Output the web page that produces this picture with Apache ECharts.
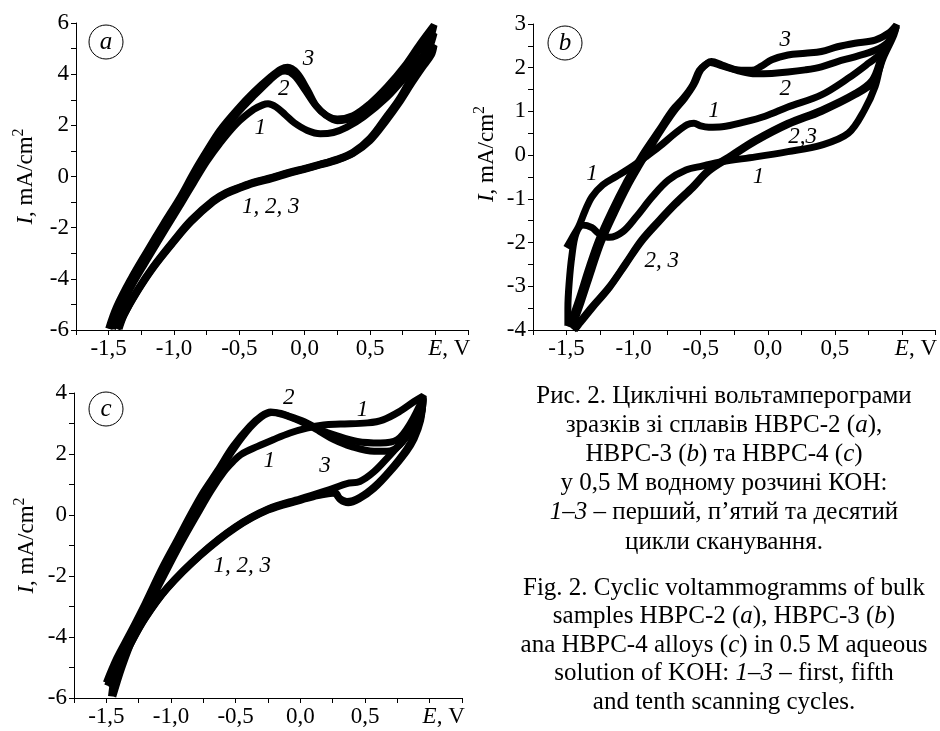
<!DOCTYPE html>
<html>
<head>
<meta charset="utf-8">
<script src="https://cdn.jsdelivr.net/npm/echarts@6/dist/echarts.min.js"></script>
<style>
  html, body { margin: 0; background: #fff; }
  #chart { width: 940px; height: 731px; }
</style>
</head>
<body>
<div id="chart"></div>
<script>
const FONT = 'Liberation Serif';

// ---- panel a: HBPC-2, cycles 1..3 (E, V ; I, mA/cm2), forward then back ----
const aCycle1 = [
  [-1.47,-5.95],[-1.41,-5.2],[-1.31,-4.15],[-1.19,-3.12],[-1.07,-2.1],[-0.95,-1.1],[-0.85,-0.25],
  [-0.75,0.58],[-0.65,1.29],[-0.52,2.07],[-0.39,2.62],[-0.32,2.8],[-0.28,2.84],[-0.22,2.72],
  [-0.15,2.42],[-0.08,2.1],[0.02,1.8],[0.12,1.67],[0.22,1.72],[0.32,1.92],[0.45,2.33],[0.63,3.1],
  [0.78,3.95],[0.92,4.8],[0.99,5.12],
  [0.97,4.75],[0.9,4.25],[0.82,3.65],[0.72,2.85],[0.62,2.15],[0.5,1.4],[0.37,0.9],[0.25,0.64],
  [0.12,0.45],[0,0.28],[-0.13,0.1],[-0.25,-0.08],[-0.39,-0.27],[-0.5,-0.47],[-0.6,-0.68],
  [-0.7,-1.0],[-0.87,-1.78],[-1.0,-2.55],[-1.16,-3.58],[-1.28,-4.5],[-1.38,-5.4],[-1.42,-5.95]
];
const aCycle2 = [
  [-1.49,-5.95],[-1.43,-5.1],[-1.32,-4.05],[-1.2,-3.0],[-1.08,-1.95],[-0.95,-0.9],[-0.85,0.0],
  [-0.75,0.85],[-0.65,1.65],[-0.52,2.45],[-0.39,3.15],[-0.27,3.75],[-0.2,4.05],[-0.15,4.12],
  [-0.08,3.95],[0.0,3.4],[0.08,2.8],[0.16,2.4],[0.25,2.18],[0.37,2.3],[0.5,2.75],[0.63,3.4],
  [0.76,4.15],[0.885,5.0],[0.99,5.6],
  [0.96,5.1],[0.9,4.5],[0.82,3.8],[0.72,2.95],[0.62,2.25],[0.5,1.45],[0.37,0.92],[0.25,0.66],
  [0.12,0.47],[0,0.3],[-0.13,0.13],[-0.25,-0.05],[-0.39,-0.24],[-0.5,-0.44],[-0.6,-0.65],
  [-0.7,-0.97],[-0.87,-1.75],[-1.0,-2.52],[-1.16,-3.55],[-1.28,-4.47],[-1.38,-5.38],[-1.43,-5.95]
];
const aCycle3 = [
  [-1.5,-5.95],[-1.44,-5.1],[-1.33,-4.0],[-1.21,-2.95],[-1.08,-1.85],[-0.95,-0.78],[-0.85,0.15],
  [-0.75,1.0],[-0.65,1.8],[-0.52,2.6],[-0.39,3.3],[-0.26,3.9],[-0.18,4.2],[-0.13,4.27],
  [-0.06,4.05],[0.02,3.4],[0.09,2.75],[0.17,2.38],[0.25,2.25],[0.37,2.38],[0.5,2.85],[0.63,3.5],
  [0.76,4.28],[0.885,5.2],[0.99,5.92],
  [0.96,5.35],[0.9,4.65],[0.82,3.9],[0.72,3.0],[0.62,2.3],[0.5,1.5],[0.37,0.95],[0.25,0.68],
  [0.12,0.48],[0,0.32],[-0.13,0.15],[-0.25,-0.03],[-0.39,-0.22],[-0.5,-0.42],[-0.6,-0.62],
  [-0.7,-0.93],[-0.87,-1.7],[-1.0,-2.48],[-1.16,-3.52],[-1.28,-4.43],[-1.38,-5.33],[-1.44,-5.95]
];
const aNotes = [[0.03,4.6,'3'],[-0.16,3.44,'2'],[-0.34,1.88,'1'],[-0.26,-1.18,'1, 2, 3']];

// ---- panel b: HBPC-3 ----
const bCycle1 = [
  [-1.5,-2.12],[-1.45,-1.85],[-1.41,-1.64],[-1.36,-1.26],[-1.31,-0.95],[-1.23,-0.68],[-1.13,-0.49],
  [-1.03,-0.3],[-0.91,-0.04],[-0.81,0.19],[-0.69,0.5],[-0.6,0.7],[-0.55,0.73],[-0.5,0.67],
  [-0.44,0.64],[-0.34,0.65],[-0.17,0.76],[-0.02,0.89],[0.15,1.1],[0.4,1.38],[0.6,1.76],
  [0.75,2.1],[0.85,2.35],[0.95,2.9],
  [0.92,2.7],[0.85,2.18],[0.8,1.57],[0.72,1.03],[0.6,0.5],[0.4,0.23],[0.15,0.08],[-0.09,-0.04],
  [-0.34,-0.15],[-0.49,-0.25],[-0.61,-0.34],[-0.74,-0.57],[-0.86,-0.95],[-0.98,-1.41],
  [-1.08,-1.75],[-1.18,-1.88],[-1.26,-1.79],[-1.31,-1.66],[-1.38,-1.6],[-1.43,-1.8],
  [-1.46,-2.3],[-1.48,-2.9],[-1.49,-3.5],[-1.49,-3.9]
];
const bCycle2 = [
  [-1.48,-3.93],[-1.41,-3.32],[-1.33,-2.55],[-1.26,-1.94],[-1.16,-1.26],[-1.06,-0.65],[-0.98,-0.23],
  [-0.91,0.12],[-0.81,0.57],[-0.71,1.03],[-0.63,1.3],[-0.56,1.6],[-0.51,1.94],[-0.46,2.08],
  [-0.43,2.12],[-0.34,2.04],[-0.22,1.93],[-0.09,1.86],[0.03,1.87],[0.15,1.9],[0.28,1.95],
  [0.4,2.02],[0.52,2.14],[0.65,2.25],[0.8,2.4],[0.9,2.6],[0.96,2.95],
  [0.94,2.8],[0.85,2.25],[0.78,1.72],[0.65,1.41],[0.4,1.03],[0.15,0.73],[-0.09,0.35],[-0.27,0.0],
  [-0.44,-0.34],[-0.56,-0.72],[-0.69,-1.1],[-0.81,-1.49],[-0.94,-1.94],[-1.06,-2.48],
  [-1.18,-3.01],[-1.31,-3.47],[-1.41,-3.85],[-1.45,-4.0]
];
const bCycle3 = [
  [-1.46,-3.95],[-1.39,-3.35],[-1.31,-2.6],[-1.24,-1.98],[-1.14,-1.3],[-1.04,-0.68],[-0.96,-0.25],
  [-0.89,0.1],[-0.8,0.55],[-0.7,1.0],[-0.62,1.3],[-0.55,1.62],[-0.5,1.95],[-0.45,2.1],
  [-0.42,2.14],[-0.34,2.06],[-0.22,1.95],[-0.12,1.94],[-0.05,2.03],[0.03,2.18],[0.15,2.29],
  [0.28,2.33],[0.4,2.37],[0.52,2.48],[0.65,2.56],[0.8,2.63],[0.9,2.79],[0.96,2.98],
  [0.94,2.75],[0.86,2.22],[0.79,1.68],[0.65,1.38],[0.4,1.0],[0.15,0.7],[-0.09,0.32],[-0.27,-0.03],
  [-0.44,-0.37],[-0.56,-0.75],[-0.69,-1.13],[-0.81,-1.52],[-0.94,-1.97],[-1.06,-2.5],
  [-1.18,-3.03],[-1.31,-3.5],[-1.41,-3.88],[-1.44,-4.0]
];
const bNotes = [[0.13,2.63,'3'],[0.13,1.52,'2'],[-0.4,1.02,'1'],[0.26,0.41,'2,3'],
  [-0.07,-0.5,'1'],[-1.31,-0.44,'1'],[-0.79,-2.41,'2, 3']];

// ---- panel c: HBPC-4 ----
const cCycle1 = [
  [-1.45,-5.95],[-1.38,-5.0],[-1.29,-4.0],[-1.17,-2.95],[-1.05,-1.95],[-0.92,-0.9],[-0.8,0.0],
  [-0.69,0.8],[-0.59,1.42],[-0.52,1.75],[-0.46,1.98],[-0.33,2.25],[-0.21,2.47],[-0.08,2.69],
  [0.05,2.85],[0.18,2.95],[0.31,2.98],[0.52,3.02],[0.64,3.12],[0.77,3.4],[0.88,3.72],[0.95,3.9],
  [0.94,3.4],[0.9,2.95],[0.82,2.55],[0.69,1.95],[0.57,1.42],[0.46,1.1],[0.36,1.03],[0.26,0.88],
  [0.1,0.66],[0,0.53],[-0.25,0.2],[-0.5,-0.38],[-0.77,-1.28],[-1.03,-2.38],[-1.2,-3.35],
  [-1.32,-4.25],[-1.42,-5.05],[-1.46,-5.95]
];
const cCycle2 = [
  [-1.5,-5.5],[-1.42,-4.7],[-1.32,-3.9],[-1.2,-2.9],[-1.07,-1.75],[-0.95,-0.8],[-0.85,0.0],
  [-0.75,0.75],[-0.64,1.45],[-0.52,2.25],[-0.39,2.91],[-0.3,3.25],[-0.23,3.38],[-0.15,3.33],
  [-0.08,3.23],[0.05,3.02],[0.15,2.8],[0.26,2.63],[0.44,2.41],[0.62,2.36],[0.75,2.47],
  [0.85,3.0],[0.95,3.85],
  [0.93,3.2],[0.88,2.6],[0.82,2.15],[0.69,1.45],[0.57,0.92],[0.46,0.58],[0.36,0.44],[0.3,0.55],
  [0.26,0.74],[0.1,0.62],[0,0.5],[-0.25,0.18],[-0.5,-0.4],[-0.77,-1.3],[-1.03,-2.4],
  [-1.2,-3.38],[-1.32,-4.28],[-1.42,-5.1],[-1.5,-5.5]
];
const cCycle3 = [
  [-1.49,-5.6],[-1.41,-4.75],[-1.31,-3.92],[-1.19,-2.92],[-1.06,-1.78],[-0.94,-0.82],[-0.84,-0.02],
  [-0.74,0.72],[-0.63,1.42],[-0.51,2.2],[-0.39,2.86],[-0.3,3.22],[-0.22,3.36],[-0.14,3.3],
  [-0.07,3.2],[0.05,2.98],[0.15,2.74],[0.26,2.47],[0.39,2.25],[0.57,2.09],[0.67,2.09],
  [0.77,2.3],[0.86,2.9],[0.95,3.8],
  [0.93,3.1],[0.88,2.5],[0.82,2.08],[0.69,1.4],[0.57,0.87],[0.46,0.54],[0.37,0.4],[0.31,0.5],
  [0.27,0.72],[0.1,0.6],[0,0.48],[-0.25,0.16],[-0.5,-0.42],[-0.77,-1.32],[-1.03,-2.42],
  [-1.2,-3.4],[-1.32,-4.3],[-1.42,-5.15],[-1.49,-5.6]
];
const cNotes = [[-0.09,3.84,'2'],[0.48,3.45,'1'],[-0.24,1.76,'1'],[0.19,1.6,'3'],[-0.45,-1.68,'1, 2, 3']];

// y ranges per panel
const yRanges = [
  { min: -6, max: 6, interval: 1, labelStep: 2 },
  { min: -4, max: 3, interval: 0.5, labelStep: 1 },
  { min: -6, max: 4, interval: 1, labelStep: 2 }
];

const captionUk = [
  'Рис. 2. Циклічні вольтамперограми',
  'зразків зі сплавів НВРС-2 ({i|a}),',
  'НВРС-3 ({i|b}) та НВРС-4 ({i|c})',
  'у 0,5 М водному розчині КОН:',
  '{i|1–3} – перший, п’ятий та десятий',
  'цикли сканування.'
];
const captionEn = [
  'Fig. 2. Cyclic voltammogramms of bulk',
  'samples HBPC-2 ({i|a}), HBPC-3 ({i|b})',
  'ana HBPC-4 alloys ({i|c}) in 0.5 M aqueous',
  'solution of KOH: {i|1–3} – first, fifth',
  'and tenth scanning cycles.'
];

const chart = echarts.init(document.getElementById('chart'));

const grids = [
  { left: 76, top: 23, width: 392, height: 307 },
  { left: 533, top: 24, width: 404, height: 306 },
  { left: 74, top: 393, width: 388, height: 305 }
];

const isStep = (v, s) => Math.abs(v / s - Math.round(v / s)) < 1e-6;

const xAxes = grids.map((g, i) => ({
  gridIndex: i, type: 'value', min: -1.75, max: 1.25, interval: 0.25,
  axisLine: { onZero: false, lineStyle: { color: '#000', width: 1 } },
  axisTick: { length: 5, lineStyle: { color: '#000' } },
  splitLine: { show: false },
  axisLabel: {
    color: '#000', fontFamily: FONT, fontSize: 23, margin: 7,
    showMinLabel: true, showMaxLabel: true,
    formatter: v => {
      if (Math.abs(v - 1) < 1e-6) return '{sp|}{i|E}, V';
      if (!isStep(v, 0.5)) return '';
      return v.toFixed(1).replace('.', ',');
    },
    rich: {
      i: { fontFamily: FONT, fontSize: 23, fontStyle: 'italic', color: '#000' },
      sp: { width: 28 }
    }
  }
}));

const nameGaps = [39, 35, 36];
const yAxes = yRanges.map((r, i) => ({
  gridIndex: i, type: 'value', min: r.min, max: r.max, interval: r.interval,
  axisLine: { onZero: false, lineStyle: { color: '#000', width: 1 } },
  axisTick: { length: 5, lineStyle: { color: '#000' } },
  splitLine: { show: false },
  axisLabel: {
    color: '#000', fontFamily: FONT, fontSize: 23, margin: 7,
    formatter: v => isStep(v, r.labelStep) ? String(Math.round(v)) : ''
  },
  name: '{i|I}{n|, mA/cm}{s|2}',
  nameLocation: 'middle', nameRotate: 90, nameGap: nameGaps[i],
  nameTextStyle: {
    color: '#000', fontFamily: FONT, fontSize: 23,
    padding: i === 1 ? [0, 0, 0, 46] : 0,
    rich: {
      i: { fontFamily: FONT, fontSize: 23, fontStyle: 'italic', color: '#000', verticalAlign: 'bottom' },
      n: { fontFamily: FONT, fontSize: 23, color: '#000', verticalAlign: 'bottom' },
      s: { fontFamily: FONT, fontSize: 16, color: '#000', verticalAlign: 'bottom', padding: [0, 0, 10, 0] }
    }
  }
}));

function cycle(data, gi) {
  return {
    type: 'line', xAxisIndex: gi, yAxisIndex: gi, data: data,
    symbol: 'none', smooth: 0.35, silent: true,
    lineStyle: { color: '#000', width: 7 }
  };
}

function notes(list, gi) {
  return {
    type: 'scatter', xAxisIndex: gi, yAxisIndex: gi, symbolSize: 0, silent: true, z: 5,
    itemStyle: { color: '#000', opacity: 1 },
    data: list.map(n => ({ value: [n[0], n[1]], name: n[2] })),
    label: {
      show: true, position: 'inside', formatter: '{b}', color: '#000', opacity: 1,
      textBorderWidth: 0, fontFamily: FONT, fontSize: 23, fontStyle: 'italic'
    }
  };
}

function panelMark(cx, cy, letter) {
  return [
    { type: 'circle', shape: { cx: cx, cy: cy, r: 17 }, style: { fill: '#fff', stroke: '#000', lineWidth: 1 }, z: 10 },
    { type: 'text', x: cx, y: cy, z: 11,
      style: { text: letter, fill: '#000', fontFamily: FONT, fontSize: 25, fontStyle: 'italic',
               align: 'center', verticalAlign: 'middle' } }
  ];
}

function captionBlock(lines, y0, step) {
  return lines.map((t, k) => ({
    type: 'text', x: 724, y: y0 + k * step,
    style: {
      text: t, fill: '#000', fontFamily: FONT, fontSize: 25,
      align: 'center', verticalAlign: 'middle',
      rich: { i: { fontFamily: FONT, fontSize: 25, fontStyle: 'italic', fill: '#000' } }
    }
  }));
}

chart.setOption({
  animation: false,
  grid: grids,
  xAxis: xAxes,
  yAxis: yAxes,
  series: [
    cycle(aCycle1, 0), cycle(aCycle2, 0), cycle(aCycle3, 0),
    cycle(bCycle1, 1), cycle(bCycle2, 1), cycle(bCycle3, 1),
    cycle(cCycle1, 2), cycle(cCycle2, 2), cycle(cCycle3, 2),
    notes(aNotes, 0), notes(bNotes, 1), notes(cNotes, 2)
  ],
  graphic: [
    ...panelMark(106, 42, 'a'),
    ...panelMark(565, 43, 'b'),
    ...panelMark(106, 409, 'c'),
    ...captionBlock(captionUk, 396, 29.2),
    ...captionBlock(captionEn, 588, 28.5)
  ]
});
</script>
</body>
</html>
